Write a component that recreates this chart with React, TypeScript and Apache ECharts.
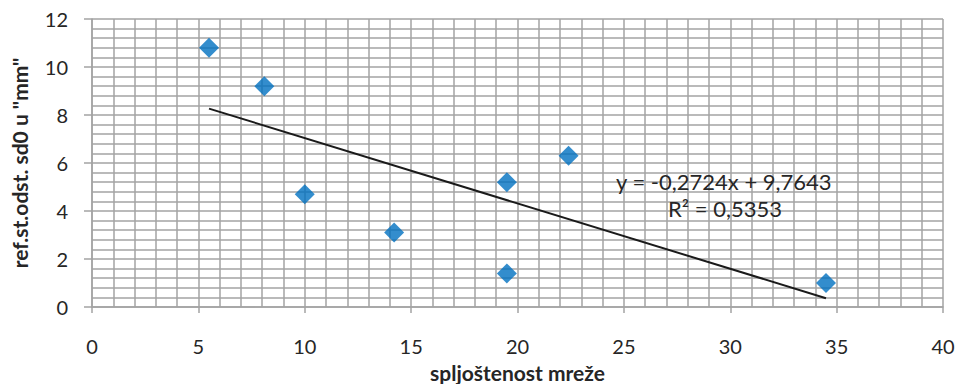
import React, { useEffect, useRef } from "react";
import * as echarts from "echarts";

const xValues = [5.5, 8.1, 10, 14.2, 19.5, 19.5, 22.4, 34.5];
const yValues = [10.8, 9.2, 4.7, 3.1, 5.2, 1.4, 6.3, 1.0];
const slope = -0.2724;
const intercept = 9.7643;
const equationText = "y = -0,2724x + 9,7643";
const r2Text = "R² = 0,5353";
const xAxisTitle = "spljoštenost mreže";
const yAxisTitle = 'ref.st.odst. sd0 u "mm"';

const FONT = "Lato, 'Open Sans', sans-serif";

export default function App() {
  const ref = useRef<HTMLDivElement>(null);
  useEffect(() => {
    document.body.style.margin = "0";
    if (!ref.current) return;
    const chart = echarts.init(ref.current, null, { renderer: "svg" });
    const points = xValues.map((x, i) => [x, yValues[i]]);
    const xMin = Math.min(...xValues);
    const xMax = Math.max(...xValues);
    const trend = [
      [xMin, slope * xMin + intercept],
      [xMax, slope * xMax + intercept],
    ];
    const gridColor = "#A3A3A3";
    chart.setOption({
      animation: false,
      backgroundColor: "#ffffff",
      grid: {
        left: 92,
        right: 14,
        top: 19,
        bottom: 77,
        containLabel: false,
        outerBoundsMode: "none",
      },
      xAxis: {
        type: "value",
        min: 0,
        max: 40,
        interval: 5,
        name: xAxisTitle,
        nameLocation: "middle",
        nameGap: 55,
        nameTextStyle: { fontFamily: FONT, fontWeight: "bold", fontSize: 21, color: "#262626" },
        axisLine: { show: true, lineStyle: { color: gridColor, width: 1.5 } },
        axisTick: { show: true, length: 6, lineStyle: { color: gridColor, width: 1.5 } },
        axisLabel: { fontFamily: FONT, fontSize: 20, color: "#262626", margin: 29 },
        splitLine: { show: true, lineStyle: { color: gridColor, width: 1.5 } },
        minorTick: { show: false, splitNumber: 5 },
        minorSplitLine: { show: true, lineStyle: { color: gridColor, width: 1.5 } },
      },
      yAxis: {
        type: "value",
        min: 0,
        max: 12,
        interval: 2,
        name: yAxisTitle,
        nameLocation: "middle",
        nameGap: 62,
        nameTextStyle: { fontFamily: FONT, fontWeight: "bold", fontSize: 21, color: "#262626" },
        axisLine: { show: true, lineStyle: { color: gridColor, width: 1.5 } },
        axisTick: { show: true, length: 8, lineStyle: { color: gridColor, width: 1.5 } },
        axisLabel: { fontFamily: FONT, fontSize: 20, color: "#262626", margin: 24 },
        splitLine: { show: true, lineStyle: { color: gridColor, width: 1.5 } },
        minorTick: { show: false, splitNumber: 5 },
        minorSplitLine: { show: true, lineStyle: { color: gridColor, width: 1.5 } },
      },
      series: [
        {
          type: "line",
          data: trend,
          symbol: "none",
          lineStyle: { color: "#1a1a1a", width: 2 },
          z: 3,
        },
        {
          type: "scatter",
          data: points,
          symbol: "diamond",
          symbolSize: 20,
          itemStyle: { color: "#0070C0" },
          z: 4,
        },
      ],
      graphic: [
        {
          type: "text",
          left: 616,
          top: 170,
          style: { text: equationText, font: `22px ${FONT}`, fill: "#262626" },
          z: 10,
        },
        {
          type: "text",
          left: 668,
          top: 197,
          style: { text: r2Text, font: `22px ${FONT}`, fill: "#262626" },
          z: 10,
        },
      ],
    });
    return () => chart.dispose();
  }, []);
  return <div ref={ref} style={{ width: 957, height: 384 }} />;
}
